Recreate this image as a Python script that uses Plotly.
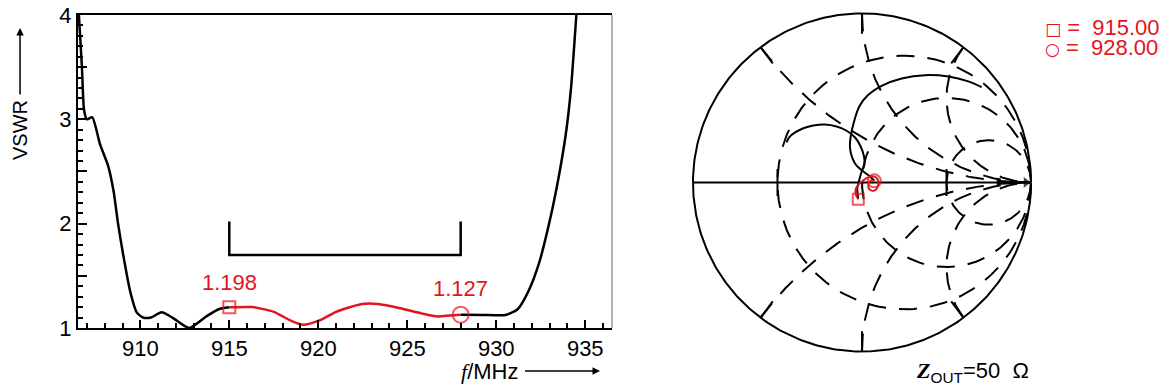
import numpy as np
import plotly.graph_objects as go

# VSWR sweep (MHz, VSWR)
freq_lo = [906.55, 906.72, 906.84, 907.0, 907.3, 907.74, 908.2, 908.5, 908.75, 909.0,
           909.42, 909.8, 910.15, 910.6, 911.2, 911.8, 912.75, 913.7, 914.4, 915.0]
vswr_lo = [4.0, 3.5, 3.09, 3.0, 3.02, 2.76, 2.55, 2.31, 2.0, 1.74,
           1.36, 1.15, 1.1, 1.1, 1.15, 1.1, 1.0, 1.11, 1.18, 1.198]
freq_band = [915.0, 916.3, 917.5, 918.4, 919.15, 920.1, 921.0, 922.45, 923.35, 924.6,
             925.8, 926.7, 927.4, 928.0]
vswr_band = [1.198, 1.2, 1.155, 1.075, 1.03, 1.075, 1.155, 1.23, 1.23, 1.19,
             1.14, 1.11, 1.12, 1.127]
freq_hi = [928.0, 929.3, 930.5, 931.2, 931.8, 932.4, 932.9, 933.4, 933.9, 934.2, 934.5]
vswr_hi = [1.127, 1.125, 1.125, 1.18, 1.35, 1.62, 1.95, 2.35, 2.85, 3.3, 4.0]

# band markers
mark_freq = [915.0, 928.0]
mark_vswr = [1.198, 1.127]
mark_symbol = ["square-open", "circle-open"]

# bandwidth bracket
bracket_f = [915.0, 915.0, 928.0, 928.0]
bracket_v = [2.02, 1.7, 1.7, 2.02]

# Smith chart trace (reflection coefficient, re / im)
g_lo_re = [-0.446, -0.430, -0.396, -0.347, -0.288, -0.219, -0.150, -0.091, -0.041, -0.008,
           0.012, 0.014, -0.002, -0.016, -0.028, -0.022]
g_lo_im = [0.237, 0.268, 0.296, 0.321, 0.337, 0.343, 0.331, 0.306, 0.266, 0.213,
           0.154, 0.105, 0.065, 0.016, -0.034, -0.099]
g_band_re = [-0.022, -0.036, -0.037, -0.022, 0.012, 0.051, 0.087, 0.097, 0.077, 0.047,
             0.037, 0.053, 0.073]
g_band_im = [-0.099, -0.073, -0.039, -0.014, 0.016, 0.036, 0.026, -0.008, -0.047, -0.043,
             -0.014, 0.012, 0.010]
g_hi_re = [0.073, 0.047, 0.008, -0.032, -0.057, -0.071, -0.067, -0.047, -0.016, 0.037,
           0.116, 0.235, 0.373, 0.511, 0.629, 0.708]
g_hi_im = [0.010, 0.036, 0.065, 0.099, 0.144, 0.203, 0.272, 0.361, 0.450, 0.519,
           0.572, 0.615, 0.635, 0.627, 0.598, 0.564]

# Smith grid values
r_circles = [1 / 3, 1.0, 3.0]
x_arcs = [0.5, 1.0, 2.0]

RED = "#e3141e"
FONT = "Liberation Sans, Arial, sans-serif"
SERIF = "Liberation Serif"

fig = go.Figure()

# ---- left panel: VSWR vs frequency
fig.add_trace(go.Scatter(x=freq_lo, y=vswr_lo, mode="lines", line=dict(color="black", width=2.5, shape="spline", smoothing=0.6)))
fig.add_trace(go.Scatter(x=freq_hi, y=vswr_hi, mode="lines", line=dict(color="black", width=2.5, shape="spline", smoothing=0.6)))
fig.add_trace(go.Scatter(x=freq_band, y=vswr_band, mode="lines", line=dict(color=RED, width=2.5, shape="spline", smoothing=0.6)))
fig.add_trace(go.Scatter(x=bracket_f, y=bracket_v, mode="lines", line=dict(color="black", width=2.5)))
fig.add_trace(go.Scatter(x=mark_freq, y=mark_vswr, mode="markers",
                         marker=dict(symbol=mark_symbol, size=[12, 16], color=RED, line=dict(color=RED, width=2))))

for f, v, sh in zip(mark_freq, mark_vswr, [10, 12]):
    fig.add_annotation(x=f, y=v, text=f"{v:.3f}", showarrow=False, xanchor="center", yanchor="bottom", yshift=sh,
                       font=dict(family=FONT, size=22, color=RED))

# ---- right panel: Smith chart
t = np.linspace(0, 2 * np.pi, 361)
fig.add_trace(go.Scatter(x=np.cos(t), y=np.sin(t), mode="lines", line=dict(color="black", width=2),
                         xaxis="x2", yaxis="y2"))
fig.add_trace(go.Scatter(x=[-1, 0.97], y=[0, 0], mode="lines+markers", line=dict(color="black", width=2),
                         marker=dict(symbol="triangle-right", size=[0, 11], color="black"),
                         xaxis="x2", yaxis="y2"))

sweep = np.logspace(-3, 3, 400)
for r in r_circles:
    xs = np.concatenate([-sweep[::-1], [0], sweep])
    z = r + 1j * xs
    g = (z - 1) / (z + 1)
    fig.add_trace(go.Scatter(x=g.real, y=g.imag, mode="lines", line=dict(color="black", width=2, dash="18px,13px"),
                             xaxis="x2", yaxis="y2"))
for xv in x_arcs:
    for s in (1, -1):
        z = np.concatenate([[0], sweep]) + 1j * s * xv
        g = (z - 1) / (z + 1)
        fig.add_trace(go.Scatter(x=g.real, y=g.imag, mode="lines", line=dict(color="black", width=2, dash="18px,13px"),
                                 xaxis="x2", yaxis="y2"))

# rim ticks
tx, ty = [], []
for xv in x_arcs:
    for s in (1, -1):
        g = (1j * s * xv - 1) / (1j * s * xv + 1)
        tx += [g.real, 0.88 * g.real, None]
        ty += [g.imag, 0.88 * g.imag, None]
for r in [r_circles[0], r_circles[-1]]:
    g = (r - 1) / (r + 1)
    tx += [g, g, None]
    ty += [0.08, -0.08, None]
fig.add_trace(go.Scatter(x=tx, y=ty, mode="lines", line=dict(color="black", width=2), xaxis="x2", yaxis="y2"))

fig.add_trace(go.Scatter(x=g_lo_re, y=g_lo_im, mode="lines", line=dict(color="black", width=2, shape="spline"),
                         xaxis="x2", yaxis="y2"))
fig.add_trace(go.Scatter(x=g_hi_re, y=g_hi_im, mode="lines", line=dict(color="black", width=2, shape="spline"),
                         xaxis="x2", yaxis="y2"))
fig.add_trace(go.Scatter(x=g_band_re, y=g_band_im, mode="lines", line=dict(color=RED, width=2, shape="spline"),
                         xaxis="x2", yaxis="y2"))
fig.add_trace(go.Scatter(x=[g_band_re[0], g_band_re[-1]], y=[g_band_im[0], g_band_im[-1]], mode="markers",
                         marker=dict(symbol=mark_symbol, size=[11, 13], color=RED, line=dict(color=RED, width=2)),
                         xaxis="x2", yaxis="y2"))

for i, (f, sym) in enumerate(zip(mark_freq, ["□", "○"])):
    fig.add_annotation(x=1043 / 1159, y=1 - (28 + 19 * i) / 387, xref="paper", yref="paper",
                       xanchor="left", yanchor="middle",
                       text=f"<span style='font-family:DejaVu Sans;font-size:17px'>{sym}</span> =  {f:.3f} MHz",
                       showarrow=False, font=dict(family=FONT, size=22, color=RED))

fig.add_annotation(x=972 / 1159, y=15 / 387, xref="paper", yref="paper", showarrow=False,
                   xanchor="center", yanchor="middle",
                   text=f"<span style='font-family:{SERIF}'><b><i>Z</i></b></span><sub>OUT</sub>=50  Ω",
                   font=dict(family=FONT, size=22, color="black"))

# axis titles with their arrows
fig.add_annotation(x=0.0173, y=1 - 28 / 387, xref="paper", yref="paper", ax=0, ay=102,
                   text="VSWR", textangle=-90, showarrow=True, arrowhead=2, arrowwidth=1.5,
                   arrowcolor="black", startstandoff=4, font=dict(family=FONT, size=20, color="black"))
fig.add_annotation(x=600 / 1159, y=16 / 387, xref="paper", yref="paper", ax=-111, ay=0,
                   text=f"<span style='font-family:{SERIF}'><i>f</i></span>/MHz", showarrow=True,
                   arrowhead=2, arrowwidth=1.5, arrowcolor="black", startstandoff=6,
                   font=dict(family=FONT, size=22, color="black"))

# right frame of the VSWR panel is a thin grey line
fig.add_shape(type="line", xref="x domain", yref="y domain", x0=1, x1=1, y0=0, y1=1,
              line=dict(color="#999999", width=1.5))

fig.update_layout(
    template="none",
    width=1159, height=387, margin=dict(l=0, r=0, t=0, b=0, autoexpand=False),
    paper_bgcolor="white", plot_bgcolor="white", showlegend=False,
    font=dict(family=FONT, size=22, color="black"),
    xaxis=dict(domain=[0.0673, 0.528], range=[906.5, 936.5], tickvals=[910, 915, 920, 925, 930, 935],
               ticks="inside", ticklen=8, tickwidth=1.5, tickcolor="black",
               minor=dict(dtick=1, ticks="inside", ticklen=5, tickwidth=1.5, tickcolor="black"),
               showline=True, linewidth=2, linecolor="black", mirror=True, automargin=False,
               showgrid=False, zeroline=False, anchor="y"),
    yaxis=dict(domain=[0.1525, 0.9612], range=[1, 4],
               tickvals=[1, 1.5, 2, 2.5, 3, 3.5, 4], ticktext=["1", "", "2", "", "3", "", "4"],
               ticks="inside", ticklen=9, tickwidth=1.5, tickcolor="black",
               minor=dict(dtick=0.1, ticks="inside", ticklen=5, tickwidth=1.5, tickcolor="black"),
               showline=True, linewidth=2, linecolor="black", automargin=False,
               showgrid=False, zeroline=False, anchor="x"),
    xaxis2=dict(domain=[0.595, 0.8925], range=[-1.02, 1.02], visible=False, anchor="y2", automargin=False),
    yaxis2=dict(domain=[0.083, 0.974], range=[-1.02, 1.02], visible=False, anchor="x2", automargin=False),
)

fig.write_html("out.html", config={"displayModeBar": False},
               post_script="document.body.style.margin='0';")
